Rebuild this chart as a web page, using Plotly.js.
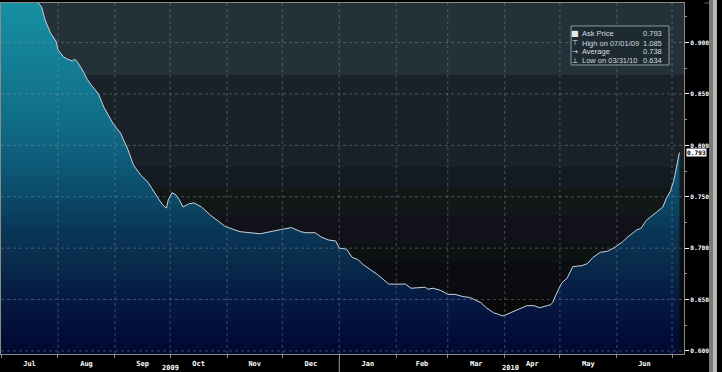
<!DOCTYPE html>
<html>
<head>
<meta charset="utf-8">
<script src="https://cdn.plot.ly/plotly-3.0.1.min.js"></script>
<style>html,body{margin:0;padding:0;background:#000;}#chart{width:722px;height:372px;}</style>
</head>
<body>
<div id="chart"></div>
<script>
// ---- data ----
const dates = [
  '2009-07-01','2009-07-21','2009-07-23','2009-07-25','2009-07-28','2009-07-31',
  '2009-08-01','2009-08-04','2009-08-06','2009-08-09','2009-08-10','2009-08-12',
  '2009-08-15','2009-08-17','2009-08-19','2009-08-23','2009-08-26','2009-08-31',
  '2009-09-04','2009-09-08','2009-09-11','2009-09-15','2009-09-19','2009-09-22',
  '2009-09-25','2009-09-27','2009-09-29','2009-09-30','2009-10-02','2009-10-04',
  '2009-10-06','2009-10-08','2009-10-11','2009-10-14','2009-10-18','2009-10-23',
  '2009-10-31','2009-11-08','2009-11-19','2009-11-30','2009-12-06','2009-12-11',
  '2009-12-14','2009-12-19','2009-12-22','2009-12-26','2009-12-30','2010-01-01',
  '2010-01-05','2010-01-08','2010-01-11','2010-01-14','2010-01-22','2010-01-28',
  '2010-02-06','2010-02-09','2010-02-14','2010-02-17','2010-02-18','2010-02-21',
  '2010-02-25','2010-03-01','2010-03-05','2010-03-09','2010-03-13','2010-03-19',
  '2010-03-22','2010-03-26','2010-03-28','2010-03-31','2010-04-04','2010-04-09',
  '2010-04-13','2010-04-17','2010-04-20','2010-04-26','2010-04-27','2010-04-30',
  '2010-05-02','2010-05-05','2010-05-08','2010-05-13','2010-05-16','2010-05-19',
  '2010-05-23','2010-05-27','2010-05-31','2010-06-04','2010-06-07','2010-06-12',
  '2010-06-14','2010-06-17','2010-06-22','2010-06-26','2010-06-28','2010-06-30',
  '2010-07-02','2010-07-04','2010-07-05'
];
const askPrice = [
  1.085,0.939,0.935,0.922,0.909,0.901,
  0.893,0.886,0.884,0.882,0.884,0.880,
  0.871,0.864,0.859,0.850,0.837,0.821,
  0.812,0.796,0.781,0.771,0.764,0.755,
  0.747,0.742,0.739,0.747,0.754,0.752,
  0.747,0.740,0.743,0.744,0.740,0.732,
  0.721,0.716,0.714,0.718,0.720,0.716,
  0.715,0.715,0.711,0.708,0.707,0.700,
  0.699,0.691,0.689,0.684,0.674,0.665,
  0.665,0.661,0.662,0.662,0.660,0.661,
  0.659,0.655,0.655,0.653,0.652,0.647,
  0.642,0.637,0.636,0.634,0.637,0.641,
  0.644,0.644,0.642,0.645,0.647,0.659,
  0.666,0.671,0.682,0.683,0.685,0.691,
  0.696,0.697,0.701,0.706,0.711,0.718,
  0.719,0.727,0.734,0.740,0.749,0.755,
  0.766,0.783,0.793
];
const yTickVals = [0.600,0.650,0.700,0.750,0.800,0.850,0.900];
const yTickText = ['0.600','0.650','0.700','0.750','0.800','0.850','0.900'];
const yMinorTicks = [0.625,0.675,0.725,0.775,0.825,0.875,0.925];
const monthStarts = ['2009-08-01','2009-09-01','2009-10-01','2009-11-01','2009-12-01',
  '2010-01-01','2010-02-01','2010-03-01','2010-04-01','2010-05-01','2010-06-01','2010-07-01'];
const yearLabels = ['2009','2010'];
const yearCenters = ['2009-10-01','2010-04-04'];
const legendLabels = ['Ask Price','High on 07/01/09','Average','Low on 03/31/10'];
const legendValues = ['0.793','1.085','0.738','0.634'];
const legendIcons = ['\u25A0','\u22A4','\u2192','\u22A5'];
const lastLabel = '0.793';

// ---- styling ----
const Y0 = 0.597, Y1 = 0.9385;
const tickFont = {family:'DejaVu Sans Mono', size:7, color:'#ffffff', weight:'bold'};
const yTickFont = {family:'DejaVu Sans Mono', size:6.2, color:'#ffffff', weight:'bold'};

const trace = {
  type:'scatter', mode:'lines', x:dates, y:askPrice,
  line:{color:'#c9d3da', width:1},
  fill:'tozeroy',
  fillgradient:{type:'vertical', start:Y0, stop:Y1, colorscale:[
    [0,'#000a30'],[0.07,'#020f3a'],[0.155,'#061a42'],[0.243,'#08284a'],
    [0.302,'#0a3050'],[0.36,'#0a3858'],[0.448,'#0b4a68'],[0.536,'#0d5a78'],
    [0.653,'#106c86'],[0.77,'#127890'],[0.887,'#14849a'],[1,'#1690a2']]},
  hoverinfo:'skip'
};

// background bands (above the curve)
const bands = [
  [0.8685, 1.2, '#243139'],
  [0.779, 0.8685, '#1b2129'],
  [0.7586, 0.779, '#141a22'],
  [0.7323, 0.7586, '#111817'],
  [0.7041, 0.7323, '#111119'],
  [0.6866, 0.7041, '#0c1111'],
  [0.6516, 0.6866, '#0b0c12'],
  [0.4, 0.6516, '#080808']
];
const shapes = [];
bands.forEach(b => shapes.push({type:'rect', xref:'paper', yref:'y', x0:0, x1:1, y0:b[0], y1:b[1],
  fillcolor:b[2], line:{width:0}, layer:'below'}));
const gridLine = {color:'rgba(135,150,165,0.45)', width:1, dash:'dot'};
yTickVals.forEach(v => shapes.push({type:'line', xref:'paper', yref:'y', x0:0, x1:1, y0:v, y1:v, line:gridLine, layer:'above'}));
monthStarts.forEach(d => shapes.push({type:'line', xref:'x', yref:'paper', x0:d, x1:d, y0:0, y1:1, line:gridLine, layer:'above'}));
// year separator
shapes.push({type:'line', xref:'x', yref:'paper', x0:'2010-01-01', x1:'2010-01-01', y0:-0.011, y1:-0.06, line:{color:'#9a9a9a', width:1}});
// legend box
shapes.push({type:'rect', xref:'paper', yref:'paper', x0:0.8346, x1:0.978, y0:0.8234, y1:0.9345,
  fillcolor:'#1d2a32', line:{color:'#8b9ba3', width:1}, layer:'above'});
// right gray strip
shapes.push({type:'rect', xref:'paper', yref:'paper', x0:1.0366, x1:1.0417, y0:-0.06, y1:1.01, fillcolor:'#7a7a7a', line:{width:0}, layer:'below'});
shapes.push({type:'rect', xref:'paper', yref:'paper', x0:1.0417, x1:1.0483, y0:-0.06, y1:1.01, fillcolor:'#b8b8b8', line:{width:0}, layer:'below'});
shapes.push({type:'line', xref:'paper', yref:'paper', x0:1.03, x1:1.0366, y0:1.0, y1:1.0, line:{color:'#666', width:1}, layer:'below'});

const annotations = [];
yearLabels.forEach((t,i) => annotations.push({xref:'x', yref:'paper', x:yearCenters[i], y:-0.04,
  text:t, showarrow:false, font:tickFont, xanchor:'center', yanchor:'middle'}));
const rowY = [0.9117, 0.886, 0.8604, 0.8348];
const legendFont = {family:'Liberation Sans', size:7.5, color:'#d6dade'};
legendLabels.forEach((t,i) => {
  annotations.push({xref:'paper', yref:'paper', x:0.8404, y:rowY[i], text:legendIcons[i], showarrow:false,
    font:{family:'DejaVu Sans', size:i===0?8:7, color:'#e8e8e8'}, xanchor:'center', yanchor:'middle'});
  annotations.push({xref:'paper', yref:'paper', x:0.848, y:rowY[i], text:t, showarrow:false,
    font:legendFont, xanchor:'left', yanchor:'middle'});
  annotations.push({xref:'paper', yref:'paper', x:0.9707, y:rowY[i], text:legendValues[i], showarrow:false,
    font:legendFont, xanchor:'right', yanchor:'middle'});
});
// last price tag
annotations.push({xref:'paper', yref:'y', x:1, xshift:2, y:askPrice[askPrice.length-1], text:lastLabel,
  showarrow:false, xanchor:'left', yanchor:'middle', bgcolor:'#ffffff', borderpad:0,
  font:{family:'DejaVu Sans Mono', size:6.2, color:'#000000', weight:'bold'}});

const layout = {
  width:722, height:372,
  paper_bgcolor:'#000000', plot_bgcolor:'#080808',
  margin:{l:1, r:38, t:3, b:18, pad:0},
  showlegend:false,
  xaxis:{type:'date', range:['2009-07-01','2010-07-07 12:00'], tick0:'2009-07-01', dtick:'M1',
    ticklabelmode:'period', tickformat:'%b', showgrid:false, zeroline:false,
    ticks:'outside', ticklen:3, tickcolor:'#888', showline:true, linecolor:'#8a8a8a', mirror:true,
    tickfont:tickFont, fixedrange:true},
  yaxis:{side:'right', range:[Y0, Y1], tickmode:'array', tickvals:yTickVals, ticktext:yTickText,
    ticks:'outside', ticklen:4, tickcolor:'#ffffff', showgrid:false, zeroline:false,
    showline:true, linecolor:'#8a8a8a', mirror:true, tickfont:yTickFont, fixedrange:true,
    minor:{tickmode:'array', tickvals:yMinorTicks, ticks:'outside', ticklen:2, tickcolor:'#999', showgrid:false}},
  shapes:shapes,
  annotations:annotations
};

Plotly.newPlot('chart', [trace], layout, {staticPlot:true, displayModeBar:false});
</script>
</body>
</html>
